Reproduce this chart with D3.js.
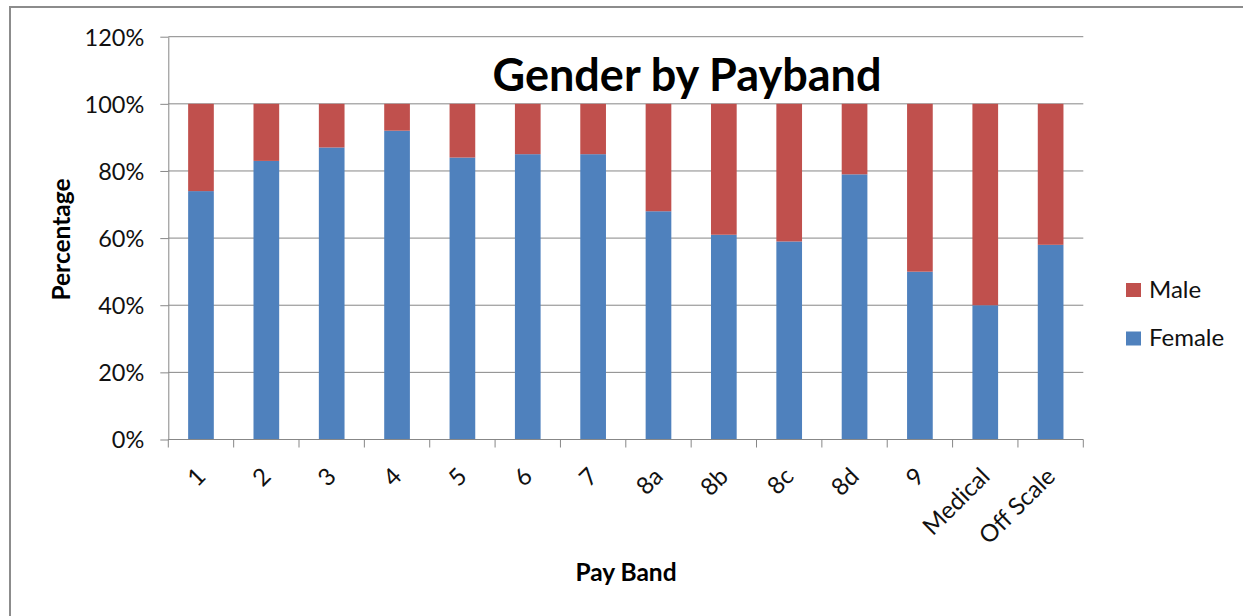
<!DOCTYPE html>
<html>
<head>
<meta charset="utf-8">
<script src="https://cdn.jsdelivr.net/npm/d3@7/dist/d3.min.js"></script>
<style>
  html, body { margin: 0; padding: 0; background: #fff; }
  svg { display: block; }
  text { font-family: "Lato", "Liberation Sans", sans-serif; fill: #000; }
</style>
</head>
<body>
<svg id="chart" width="1243" height="616"></svg>
<script>
// Pay bands and the share of each gender within them (percent)
const payBands = ["1", "2", "3", "4", "5", "6", "7", "8a", "8b", "8c", "8d", "9", "Medical", "Off Scale"];
const femalePct = [74, 83, 87, 92, 84, 85, 85, 68, 61, 59, 79, 50, 40, 58];
const malePct   = [26, 17, 13, 8, 16, 15, 15, 32, 39, 41, 21, 50, 60, 42];
const yTicks = [0, 20, 40, 60, 80, 100, 120];
const seriesNames = ["Female", "Male"];
const seriesColors = ["#4F81BD", "#C0504D"];

const svg = d3.select("#chart");

// Outer chart frame
svg.append("path")
  .attr("d", "M10,620 L10,7 L1250,7")
  .attr("fill", "none")
  .attr("stroke", "#8c8c8c")
  .attr("stroke-width", 2);

const plot = { left: 168.3, right: 1083.3, top: 36.7, bottom: 439.5 };

const x = d3.scaleBand()
  .domain(payBands)
  .range([plot.left, plot.right])
  .paddingInner(0.607)
  .paddingOuter(0.3035);

const y = d3.scaleLinear()
  .domain([0, 120])
  .range([plot.bottom, plot.top]);

// Horizontal gridlines
svg.append("g")
  .selectAll("line")
  .data(yTicks.filter(t => t > 0))
  .join("line")
  .attr("x1", plot.left).attr("x2", plot.right)
  .attr("y1", d => y(d)).attr("y2", d => y(d))
  .attr("stroke", "#878787")
  .attr("stroke-width", 1);

// Stacked bars
const rows = payBands.map((b, i) => ({ band: b, Female: femalePct[i], Male: malePct[i] }));
const stacked = d3.stack().keys(seriesNames)(rows);

svg.append("g")
  .selectAll("g")
  .data(stacked)
  .join("g")
  .attr("fill", (d, i) => seriesColors[i])
  .selectAll("rect")
  .data(d => d)
  .join("rect")
  .attr("x", d => x(d.data.band))
  .attr("width", x.bandwidth())
  .attr("y", d => y(d[1]))
  .attr("height", d => y(d[0]) - y(d[1]));

// Y axis
const yAxis = svg.append("g")
  .attr("transform", `translate(${plot.left},0)`)
  .call(d3.axisLeft(y).tickValues(yTicks).tickFormat(d => d + "%").tickSize(8).tickSizeOuter(0));
yAxis.select(".domain").attr("stroke", "#878787");
yAxis.selectAll(".tick line").attr("stroke", "#878787");
yAxis.selectAll(".tick text")
  .attr("x", -24)
  .attr("dy", "0.36em")
  .style("font-size", "23.5px")
  .style("fill", "#111");

// X axis with tick marks at band boundaries
const xAxis = svg.append("g")
  .attr("transform", `translate(0,${plot.bottom})`);
xAxis.append("line")
  .attr("x1", plot.left).attr("x2", plot.right)
  .attr("stroke", "#878787");
const step = x.step();
xAxis.selectAll("line.tk")
  .data(d3.range(payBands.length + 1))
  .join("line")
  .attr("class", "tk")
  .attr("x1", i => plot.left + i * step).attr("x2", i => plot.left + i * step)
  .attr("y1", 0).attr("y2", 8)
  .attr("stroke", "#878787");

// Rotated category labels
svg.append("g")
  .selectAll("text")
  .data(payBands)
  .join("text")
  .attr("transform", d => `translate(${x(d) + x.bandwidth() / 2 + 6},478) rotate(-45)`)
  .attr("text-anchor", "end")
  .style("font-size", "24px")
  .style("fill", "#111")
  .text(d => d);

// Title
svg.append("text")
  .attr("x", 687)
  .attr("y", 91)
  .attr("text-anchor", "middle")
  .style("font-size", "45px")
  .style("font-weight", "bold")
  .text("Gender by Payband");

// Axis titles
svg.append("text")
  .attr("transform", "translate(70,239.5) rotate(-90)")
  .attr("text-anchor", "middle")
  .style("font-size", "24.5px")
  .style("font-weight", "bold")
  .text("Percentage");

svg.append("text")
  .attr("x", 626)
  .attr("y", 581)
  .attr("text-anchor", "middle")
  .style("font-size", "24.5px")
  .style("font-weight", "bold")
  .text("Pay Band");

// Legend (Male listed first)
const legendItems = [
  { name: seriesNames[1], color: seriesColors[1] },
  { name: seriesNames[0], color: seriesColors[0] }
];
const legend = svg.append("g")
  .selectAll("g")
  .data(legendItems)
  .join("g")
  .attr("transform", (d, i) => `translate(1126,${283 + i * 48.5})`);
legend.append("rect")
  .attr("width", 15).attr("height", 14)
  .attr("fill", d => d.color);
legend.append("text")
  .attr("x", 23)
  .attr("y", 14.5)
  .style("font-size", "24px")
  .style("fill", "#111")
  .text(d => d.name);
</script>
</body>
</html>
